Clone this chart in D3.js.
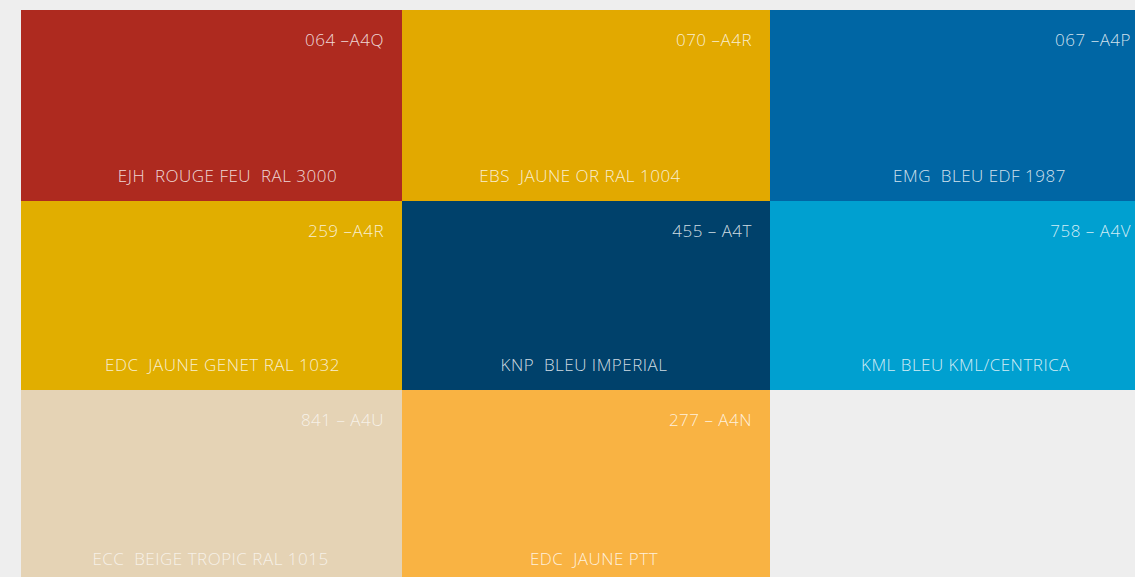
<!DOCTYPE html>
<html>
<head>
<meta charset="utf-8">
<script src="https://cdn.jsdelivr.net/npm/d3@7"></script>
<style>
  html, body { margin: 0; padding: 0; background: #eeeeee; overflow: hidden; }
  .code, .name { font-family: "Open Sans", sans-serif; font-weight: 300; fill: #ffffff; letter-spacing: 0.5px; }
</style>
</head>
<body>
<div id="container"></div>
<script>
// swatch data (row by row)
const codes = ['064 –A4Q', '070 –A4R', '067 –A4P', '259 –A4R', '455 – A4T', '758 – A4V', '841 – A4U', '277 – A4N']
const names = ['EJH  ROUGE FEU  RAL 3000', 'EBS  JAUNE OR RAL 1004', 'EMG  BLEU EDF 1987',
  'EDC  JAUNE GENET RAL 1032', 'KNP  BLEU IMPERIAL', 'KML BLEU KML/CENTRICA',
  'ECC  BEIGE TROPIC RAL 1015', 'EDC  JAUNE PTT']
const colours = ['#ae2a1f', '#e2a900', '#0066a4', '#e1ae00', '#00416b', '#00a0d0', '#e5d3b5', '#f9b343']
const cols = [0, 1, 2, 0, 1, 2, 0, 1]
const rows = [0, 0, 0, 1, 1, 1, 2, 2]

const w = 1135
const h = 577

// grid edges are uneven (last column / row run off the page), so piecewise linear scales
const scaleX = d3.scaleLinear().domain([0, 1, 2, 3]).range([21, 402, 770, 1149])
const scaleY = d3.scaleLinear().domain([0, 1, 2, 3]).range([10, 201, 390, 584])

// small nudges of the bottom labels from the cell centre
const labelShift = [16, -6, 20, 11, -2, 6, -1, 8]

const data = codes.map((c, i) => ({ code: c, name: names[i], colour: colours[i], col: cols[i], row: rows[i] }))

const svg = d3.select('#container')
  .append('svg')
    .attr('width', w)
    .attr('height', h)
    .style('display', 'block')

const cell = svg.selectAll('g.cell')
    .data(data)
    .enter()
  .append('g')
    .attr('class', 'cell')

cell.append('rect')
    .attr('x', d => scaleX(d.col))
    .attr('y', d => scaleY(d.row))
    .attr('width', d => scaleX(d.col + 1) - scaleX(d.col))
    .attr('height', d => scaleY(d.row + 1) - scaleY(d.row))
    .attr('fill', d => d.colour)

cell.append('text')
    .attr('class', 'code')
    .attr('x', d => scaleX(d.col + 1) - 18)
    .attr('y', d => scaleY(d.row) + 36)
    .attr('text-anchor', 'end')
    .style('font-size', '17px')
    .style('fill-opacity', d => d.colour === '#e5d3b5' ? 0.7 : 0.82)
    .text(d => d.code)

cell.append('text')
    .attr('class', 'name')
    .attr('x', (d, i) => (scaleX(d.col) + scaleX(d.col + 1)) / 2 + labelShift[i])
    .attr('y', d => scaleY(d.row + 1) - 19)
    .attr('text-anchor', 'middle')
    .style('font-size', '17px')
    .style('white-space', 'pre')
    .style('fill-opacity', d => d.colour === '#e5d3b5' ? 0.7 : 0.82)
    .text(d => d.name)
</script>
</body>
</html>
